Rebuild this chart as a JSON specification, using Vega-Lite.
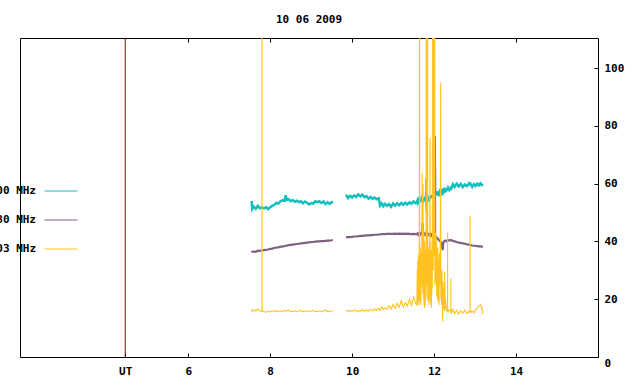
{
"$schema": "https://vega.github.io/schema/vega-lite/v6.json",
"width": 578, "height": 319,
"autosize": {"type": "none"},
"padding": {"left": 20, "top": 38, "right": 42, "bottom": 27},
"background": "white",
"title": {"text": "10 06 2009", "font": "DejaVu Sans Mono", "fontSize": 11, "fontWeight": "bold", "color": "black", "anchor": "middle", "offset": 4, "baseline": "alphabetic"},
"config": {
  "view": {"stroke": "black", "strokeWidth": 1},
  "axis": {"labelFont": "DejaVu Sans Mono", "labelFontSize": 11, "labelFontWeight": "bold", "labelColor": "black", "tickColor": "black", "grid": false, "domain": false, "title": null, "labelFlush": false}
},
"datasets": {
"ut": [{"t": 4.463}],
"obs": [
{"t":7.55,"g":1,"c":54.0,"p":36.2,"y":16.5},
{"t":7.56,"g":1,"c":51.2,"p":36.4,"y":15.8},
{"t":7.60,"g":1,"c":52.0,"p":36.5,"y":16.3},
{"t":7.65,"g":1,"c":51.3,"p":36.4,"y":15.9},
{"t":7.70,"g":1,"c":52.3,"p":36.8,"y":16.6},
{"t":7.75,"g":1,"c":51.5,"p":36.7,"y":16.0},
{"t":7.799,"g":1,"c":51.8,"p":36.9,"y":15.8},
{"t":7.80,"g":1,"c":52.2,"p":37.0,"y":200},
{"t":7.801,"g":1,"c":51.6,"p":36.9,"y":16.0},
{"t":7.85,"g":1,"c":51.4,"p":37.0,"y":15.7},
{"t":7.90,"g":1,"c":51.9,"p":37.1,"y":15.5},
{"t":7.95,"g":1,"c":51.2,"p":37.2,"y":15.9},
{"t":8.00,"g":1,"c":51.8,"p":37.4,"y":15.6},
{"t":8.05,"g":1,"c":52.3,"p":37.5,"y":16.0},
{"t":8.10,"g":1,"c":52.7,"p":37.7,"y":15.8},
{"t":8.15,"g":1,"c":53.3,"p":37.9,"y":16.1},
{"t":8.20,"g":1,"c":53.1,"p":37.9,"y":15.6},
{"t":8.25,"g":1,"c":53.9,"p":38.2,"y":16.0},
{"t":8.30,"g":1,"c":54.2,"p":38.2,"y":15.7},
{"t":8.35,"g":1,"c":54.0,"p":38.4,"y":16.2},
{"t":8.38,"g":1,"c":56.0,"p":38.5,"y":15.8},
{"t":8.40,"g":1,"c":54.4,"p":38.5,"y":15.9},
{"t":8.45,"g":1,"c":54.6,"p":38.7,"y":16.3},
{"t":8.50,"g":1,"c":53.9,"p":38.8,"y":15.7},
{"t":8.55,"g":1,"c":54.3,"p":38.9,"y":15.8},
{"t":8.60,"g":1,"c":53.7,"p":39.0,"y":16.0},
{"t":8.65,"g":1,"c":54.1,"p":39.1,"y":15.6},
{"t":8.70,"g":1,"c":53.6,"p":39.2,"y":15.9},
{"t":8.75,"g":1,"c":53.9,"p":39.3,"y":16.1},
{"t":8.80,"g":1,"c":53.2,"p":39.4,"y":15.7},
{"t":8.85,"g":1,"c":53.8,"p":39.5,"y":15.9},
{"t":8.90,"g":1,"c":53.4,"p":39.6,"y":16.0},
{"t":8.95,"g":1,"c":52.8,"p":39.7,"y":15.6},
{"t":9.00,"g":1,"c":53.3,"p":39.8,"y":15.9},
{"t":9.05,"g":1,"c":53.1,"p":39.8,"y":16.1},
{"t":9.10,"g":1,"c":53.9,"p":39.9,"y":15.8},
{"t":9.15,"g":1,"c":53.6,"p":40.0,"y":15.7},
{"t":9.20,"g":1,"c":53.9,"p":40.0,"y":16.0},
{"t":9.25,"g":1,"c":53.3,"p":40.1,"y":15.6},
{"t":9.30,"g":1,"c":53.8,"p":40.1,"y":15.9},
{"t":9.35,"g":1,"c":52.9,"p":40.2,"y":16.2},
{"t":9.40,"g":1,"c":53.5,"p":40.3,"y":15.8},
{"t":9.45,"g":1,"c":53.0,"p":40.3,"y":15.7},
{"t":9.50,"g":1,"c":53.6,"p":40.4,"y":16.0},
{"t":9.53,"g":1,"c":53.3,"p":40.5,"y":15.9},
{"t":9.85,"g":2,"c":56.2,"p":41.4,"y":16.2},
{"t":9.90,"g":2,"c":55.0,"p":41.5,"y":15.8},
{"t":9.95,"g":2,"c":55.8,"p":41.5,"y":16.1},
{"t":10.00,"g":2,"c":55.2,"p":41.6,"y":15.7},
{"t":10.05,"g":2,"c":55.9,"p":41.7,"y":16.3},
{"t":10.10,"g":2,"c":55.4,"p":41.7,"y":15.9},
{"t":10.15,"g":2,"c":56.3,"p":41.8,"y":16.0},
{"t":10.20,"g":2,"c":55.6,"p":41.9,"y":15.8},
{"t":10.25,"g":2,"c":56.2,"p":41.9,"y":16.4},
{"t":10.30,"g":2,"c":55.3,"p":42.0,"y":15.9},
{"t":10.35,"g":2,"c":55.7,"p":42.1,"y":16.2},
{"t":10.40,"g":2,"c":54.8,"p":42.1,"y":15.8},
{"t":10.45,"g":2,"c":55.4,"p":42.2,"y":16.5},
{"t":10.50,"g":2,"c":54.7,"p":42.2,"y":16.0},
{"t":10.55,"g":2,"c":55.2,"p":42.3,"y":16.6},
{"t":10.60,"g":2,"c":54.6,"p":42.3,"y":16.1},
{"t":10.65,"g":2,"c":54.9,"p":42.4,"y":16.8},
{"t":10.68,"g":2,"c":52.4,"p":42.4,"y":16.2},
{"t":10.72,"g":2,"c":53.2,"p":42.5,"y":17.3},
{"t":10.76,"g":2,"c":52.2,"p":42.5,"y":16.4},
{"t":10.80,"g":2,"c":53.0,"p":42.5,"y":17.0},
{"t":10.85,"g":2,"c":52.3,"p":42.6,"y":16.5},
{"t":10.90,"g":2,"c":52.9,"p":42.6,"y":17.8},
{"t":10.95,"g":2,"c":52.0,"p":42.6,"y":16.6},
{"t":11.00,"g":2,"c":53.1,"p":42.6,"y":18.2},
{"t":11.05,"g":2,"c":52.4,"p":42.7,"y":16.9},
{"t":11.10,"g":2,"c":53.2,"p":42.6,"y":18.6},
{"t":11.15,"g":2,"c":52.5,"p":42.7,"y":17.2},
{"t":11.20,"g":2,"c":53.3,"p":42.6,"y":19.5},
{"t":11.25,"g":2,"c":52.7,"p":42.7,"y":17.3},
{"t":11.30,"g":2,"c":53.4,"p":42.6,"y":18.8},
{"t":11.35,"g":2,"c":52.8,"p":42.7,"y":17.6},
{"t":11.40,"g":2,"c":53.5,"p":42.6,"y":20.0},
{"t":11.45,"g":2,"c":53.0,"p":42.5,"y":17.8},
{"t":11.50,"g":2,"c":53.8,"p":42.6,"y":20.8},
{"t":11.55,"g":2,"c":53.2,"p":42.5,"y":18.5},
{"t":11.58,"g":2,"c":53.4,"p":42.5,"y":18},
{"t":11.59,"g":2,"c":53.9,"p":42.7,"y":30},
{"t":11.595,"g":2,"c":53.6,"p":42.6,"y":19},
{"t":11.60,"g":2,"c":53.2,"p":42.5,"y":33},
{"t":11.605,"g":2,"c":53.8,"p":42.6,"y":18},
{"t":11.61,"g":2,"c":54.1,"p":42.6,"y":34},
{"t":11.615,"g":2,"c":53.4,"p":42.5,"y":21},
{"t":11.62,"g":2,"c":53.5,"p":42.4,"y":35},
{"t":11.625,"g":2,"c":54.0,"p":42.6,"y":19},
{"t":11.63,"g":2,"c":54.3,"p":42.7,"y":36},
{"t":11.64,"g":2,"c":53.9,"p":42.6,"y":20},
{"t":11.645,"g":2,"c":53.7,"p":42.5,"y":150},
{"t":11.65,"g":2,"c":54.2,"p":42.6,"y":22},
{"t":11.655,"g":2,"c":53.9,"p":42.5,"y":37},
{"t":11.66,"g":2,"c":53.6,"p":42.4,"y":18},
{"t":11.665,"g":2,"c":54.1,"p":42.6,"y":38},
{"t":11.67,"g":2,"c":54.4,"p":42.7,"y":18},
{"t":11.675,"g":2,"c":54.0,"p":42.5,"y":33},
{"t":11.68,"g":2,"c":53.8,"p":42.5,"y":19},
{"t":11.685,"g":2,"c":54.3,"p":42.6,"y":36},
{"t":11.69,"g":2,"c":54.6,"p":42.6,"y":25},
{"t":11.70,"g":2,"c":54.1,"p":42.6,"y":32},
{"t":11.71,"g":2,"c":54.0,"p":42.8,"y":63.7},
{"t":11.715,"g":2,"c":54.4,"p":43.5,"y":24},
{"t":11.72,"g":2,"c":54.8,"p":46.4,"y":40},
{"t":11.725,"g":2,"c":54.3,"p":42.6,"y":22},
{"t":11.73,"g":2,"c":54.2,"p":42.5,"y":60},
{"t":11.735,"g":2,"c":54.6,"p":42.6,"y":26},
{"t":11.74,"g":2,"c":55.0,"p":42.7,"y":42},
{"t":11.745,"g":2,"c":54.5,"p":42.5,"y":20},
{"t":11.75,"g":2,"c":54.3,"p":42.4,"y":44},
{"t":11.755,"g":2,"c":54.8,"p":42.6,"y":18},
{"t":11.76,"g":2,"c":55.1,"p":42.6,"y":39},
{"t":11.765,"g":2,"c":54.6,"p":42.5,"y":17},
{"t":11.77,"g":2,"c":54.5,"p":42.5,"y":40},
{"t":11.775,"g":2,"c":55.0,"p":42.6,"y":19},
{"t":11.78,"g":2,"c":55.3,"p":42.7,"y":34},
{"t":11.785,"g":2,"c":54.8,"p":42.5,"y":18},
{"t":11.79,"g":2,"c":54.6,"p":42.4,"y":35},
{"t":11.795,"g":2,"c":55.1,"p":42.6,"y":20},
{"t":11.80,"g":2,"c":55.0,"p":42.6,"y":37},
{"t":11.805,"g":2,"c":54.7,"p":42.5,"y":21},
{"t":11.81,"g":2,"c":55.2,"p":42.5,"y":150},
{"t":11.815,"g":2,"c":61.9,"p":42.5,"y":30},
{"t":11.82,"g":2,"c":50.3,"p":42.7,"y":150},
{"t":11.825,"g":2,"c":55.5,"p":42.6,"y":25},
{"t":11.83,"g":2,"c":54.8,"p":42.4,"y":150},
{"t":11.835,"g":2,"c":56.0,"p":42.4,"y":28},
{"t":11.84,"g":2,"c":54.2,"p":42.6,"y":150},
{"t":11.845,"g":2,"c":54.9,"p":42.6,"y":20},
{"t":11.85,"g":2,"c":55.3,"p":42.4,"y":34},
{"t":11.855,"g":2,"c":54.7,"p":42.3,"y":19},
{"t":11.86,"g":2,"c":55.4,"p":42.3,"y":38},
{"t":11.865,"g":2,"c":55.0,"p":42.4,"y":21},
{"t":11.87,"g":2,"c":54.8,"p":42.5,"y":36},
{"t":11.875,"g":2,"c":55.2,"p":42.4,"y":18},
{"t":11.88,"g":2,"c":55.5,"p":42.3,"y":35},
{"t":11.885,"g":2,"c":55.0,"p":42.3,"y":20},
{"t":11.89,"g":2,"c":55.4,"p":42.2,"y":40},
{"t":11.895,"g":2,"c":55.1,"p":42.3,"y":22},
{"t":11.90,"g":2,"c":55.6,"p":42.2,"y":75.8},
{"t":11.905,"g":2,"c":55.2,"p":42.3,"y":24},
{"t":11.91,"g":2,"c":54.9,"p":42.4,"y":36},
{"t":11.915,"g":2,"c":55.5,"p":42.2,"y":19},
{"t":11.92,"g":2,"c":55.8,"p":42.1,"y":34},
{"t":11.925,"g":2,"c":55.3,"p":42.2,"y":18},
{"t":11.93,"g":2,"c":55.0,"p":42.3,"y":37},
{"t":11.935,"g":2,"c":55.6,"p":42.1,"y":17},
{"t":11.94,"g":2,"c":56.0,"p":42.0,"y":36},
{"t":11.945,"g":2,"c":55.5,"p":42.1,"y":22},
{"t":11.95,"g":2,"c":55.3,"p":42.2,"y":40},
{"t":11.955,"g":2,"c":55.8,"p":42.1,"y":24},
{"t":11.96,"g":2,"c":55.6,"p":42.0,"y":42},
{"t":11.965,"g":2,"c":55.9,"p":42.1,"y":150},
{"t":11.97,"g":2,"c":56.2,"p":42.0,"y":35},
{"t":11.975,"g":2,"c":55.7,"p":41.9,"y":150},
{"t":11.98,"g":2,"c":55.5,"p":41.9,"y":30},
{"t":11.985,"g":2,"c":56.1,"p":42.0,"y":150},
{"t":11.99,"g":2,"c":56.4,"p":42.1,"y":38},
{"t":11.995,"g":2,"c":55.9,"p":41.9,"y":150},
{"t":12.00,"g":2,"c":55.7,"p":41.8,"y":35},
{"t":12.005,"g":2,"c":56.2,"p":41.9,"y":150},
{"t":12.01,"g":2,"c":56.5,"p":42.0,"y":40},
{"t":12.015,"g":2,"c":56.0,"p":42.0,"y":150},
{"t":12.02,"g":2,"c":65.8,"p":76.5,"y":25},
{"t":12.025,"g":2,"c":56.3,"p":42.0,"y":42},
{"t":12.03,"g":2,"c":56.0,"p":41.7,"y":26},
{"t":12.035,"g":2,"c":56.6,"p":41.6,"y":43},
{"t":12.04,"g":2,"c":56.8,"p":41.5,"y":28},
{"t":12.045,"g":2,"c":56.3,"p":41.6,"y":40},
{"t":12.05,"g":2,"c":56.1,"p":41.6,"y":42},
{"t":12.055,"g":2,"c":56.7,"p":41.4,"y":24},
{"t":12.06,"g":2,"c":56.4,"p":41.3,"y":40},
{"t":12.065,"g":2,"c":56.9,"p":41.3,"y":21},
{"t":12.07,"g":2,"c":56.9,"p":41.2,"y":38},
{"t":12.08,"g":2,"c":56.5,"p":41.1,"y":20},
{"t":12.09,"g":2,"c":56.3,"p":41.0,"y":38},
{"t":12.10,"g":2,"c":56.9,"p":40.8,"y":19},
{"t":12.11,"g":2,"c":57.0,"p":40.6,"y":34},
{"t":12.12,"g":2,"c":56.6,"p":40.5,"y":18},
{"t":12.13,"g":2,"c":56.4,"p":40.3,"y":36},
{"t":12.14,"g":2,"c":57.1,"p":40.1,"y":25},
{"t":12.15,"g":2,"c":56.8,"p":40.0,"y":30},
{"t":12.16,"g":2,"c":56.6,"p":39.9,"y":94.9},
{"t":12.165,"g":2,"c":57.0,"p":39.8,"y":20},
{"t":12.17,"g":2,"c":57.3,"p":39.7,"y":28},
{"t":12.18,"g":2,"c":56.9,"p":39.5,"y":18},
{"t":12.19,"g":2,"c":56.8,"p":38.5,"y":30},
{"t":12.20,"g":2,"c":57.2,"p":38.0,"y":20},
{"t":12.21,"g":2,"c":57.5,"p":37.0,"y":12.2},
{"t":12.22,"g":2,"c":57.0,"p":39.0,"y":26},
{"t":12.23,"g":2,"c":57.4,"p":39.6,"y":17},
{"t":12.24,"g":2,"c":57.7,"p":40.0,"y":24},
{"t":12.25,"g":2,"c":57.1,"p":40.1,"y":16},
{"t":12.26,"g":2,"c":57.2,"p":40.2,"y":29.5},
{"t":12.27,"g":2,"c":57.8,"p":40.3,"y":16.5},
{"t":12.28,"g":2,"c":58.0,"p":40.3,"y":20},
{"t":12.30,"g":2,"c":57.6,"p":40.1,"y":16},
{"t":12.329,"g":2,"c":58.2,"p":40.4,"y":15.8},
{"t":12.33,"g":2,"c":58.0,"p":40.4,"y":43.0},
{"t":12.331,"g":2,"c":58.3,"p":40.4,"y":15.6},
{"t":12.34,"g":2,"c":58.6,"p":40.5,"y":15.5},
{"t":12.37,"g":2,"c":57.8,"p":40.3,"y":16.4},
{"t":12.409,"g":2,"c":58.7,"p":40.5,"y":15.9},
{"t":12.41,"g":2,"c":59.0,"p":40.5,"y":27.3},
{"t":12.411,"g":2,"c":58.6,"p":40.4,"y":15.6},
{"t":12.42,"g":2,"c":58.4,"p":40.4,"y":15.2},
{"t":12.46,"g":2,"c":59.8,"p":40.2,"y":16.5},
{"t":12.50,"g":2,"c":58.9,"p":40.0,"y":15.0},
{"t":12.55,"g":2,"c":60.0,"p":39.8,"y":16.2},
{"t":12.60,"g":2,"c":59.0,"p":39.6,"y":14.8},
{"t":12.65,"g":2,"c":59.9,"p":39.5,"y":16.0},
{"t":12.70,"g":2,"c":58.8,"p":39.3,"y":15.1},
{"t":12.75,"g":2,"c":59.7,"p":39.2,"y":16.3},
{"t":12.80,"g":2,"c":59.1,"p":39.0,"y":15.0},
{"t":12.85,"g":2,"c":60.1,"p":38.9,"y":15.8},
{"t":12.879,"g":2,"c":59.6,"p":38.8,"y":15.5},
{"t":12.88,"g":2,"c":59.3,"p":38.8,"y":49.0},
{"t":12.881,"g":2,"c":59.7,"p":38.8,"y":15.6},
{"t":12.89,"g":2,"c":59.9,"p":38.8,"y":15.4},
{"t":12.93,"g":2,"c":58.9,"p":38.6,"y":16.0},
{"t":12.97,"g":2,"c":59.8,"p":38.5,"y":15.3},
{"t":13.01,"g":2,"c":59.2,"p":38.5,"y":16.2},
{"t":13.05,"g":2,"c":60.0,"p":38.4,"y":16.8},
{"t":13.09,"g":2,"c":59.4,"p":38.3,"y":17.5},
{"t":13.13,"g":2,"c":60.1,"p":38.3,"y":18.2},
{"t":13.16,"g":2,"c":59.5,"p":38.2,"y":17.4},
{"t":13.19,"g":2,"c":59.9,"p":38.2,"y":14.8}
]
},
"layer": [
{
  "data": {"name": "ut"},
  "mark": {"type": "rule", "color": "#800000", "strokeWidth": 1},
  "encoding": {
    "x": {"field": "t", "type": "quantitative",
      "scale": {"domain": [1.895, 16], "nice": false, "zero": false},
      "axis": {"orient": "bottom", "values": [4.463, 6, 8, 10, 12, 14], "format": "d", "labelExpr": "datum.value < 5 ? 'UT' : datum.label", "tickSize": -4, "labelPadding": 12}}
  }
},
{
  "data": {"name": "obs"},
  "transform": [{"fold": ["c", "p", "y"], "as": ["s", "v"]}, {"filter": "datum.s == 'c'"}],
  "mark": {"type": "line", "clip": true, "strokeWidth": 2.5},
  "encoding": {
    "x": {"field": "t", "type": "quantitative",
      "axis": {"orient": "top", "values": [6, 8, 10, 12, 14], "labels": false, "tickSize": -4, "tickWidth": 1}},
    "y": {"field": "v", "type": "quantitative",
      "scale": {"domain": [0, 110.4], "nice": false},
      "axis": {"orient": "right", "values": [0, 20, 40, 60, 80, 100], "tickSize": -4, "labelPadding": 10, "labelAlign": "left",
        "labelBaseline": {"condition": {"test": "datum.value == 0", "value": "top"}, "value": "middle"}}},
    "color": {"field": "s", "type": "nominal",
      "scale": {"domain": ["c", "p", "y"], "range": ["#12BFBF", "#7E6282", "#FFC21E"]},
      "legend": {"orient": "none", "legendX": 35, "legendY": 147, "title": null,
        "labelExpr": "datum.label == 'c' ? '2000 MHz' : datum.label == 'p' ? '1080 MHz' : '403 MHz'",
        "symbolType": "M-3,0H3", "symbolSize": 121, "symbolStrokeWidth": 1,
        "labelAlign": "right", "labelOffset": -31, "labelFont": "DejaVu Sans Mono", "labelFontSize": 11, "labelFontWeight": "bold", "labelColor": "black",
        "rowPadding": 18, "padding": 0, "labelLimit": 0}},
    "detail": {"field": "g", "type": "nominal"}
  }
},
{
  "data": {"name": "obs"},
  "transform": [{"fold": ["c", "p", "y"], "as": ["s", "v"]}, {"filter": "datum.s == 'p'"}],
  "mark": {"type": "line", "clip": true, "strokeWidth": 2.2},
  "encoding": {
    "x": {"field": "t", "type": "quantitative", "axis": null},
    "y": {"field": "v", "type": "quantitative"},
    "color": {"field": "s", "type": "nominal"},
    "detail": {"field": "g", "type": "nominal"}
  }
},
{
  "data": {"name": "obs"},
  "transform": [{"fold": ["c", "p", "y"], "as": ["s", "v"]}, {"filter": "datum.s == 'y'"}],
  "mark": {"type": "line", "clip": true, "strokeWidth": 1.1},
  "encoding": {
    "x": {"field": "t", "type": "quantitative", "axis": null},
    "y": {"field": "v", "type": "quantitative"},
    "color": {"field": "s", "type": "nominal"},
    "detail": {"field": "g", "type": "nominal"}
  }
}
],
"resolve": {"axis": {"x": "independent"}}
}
